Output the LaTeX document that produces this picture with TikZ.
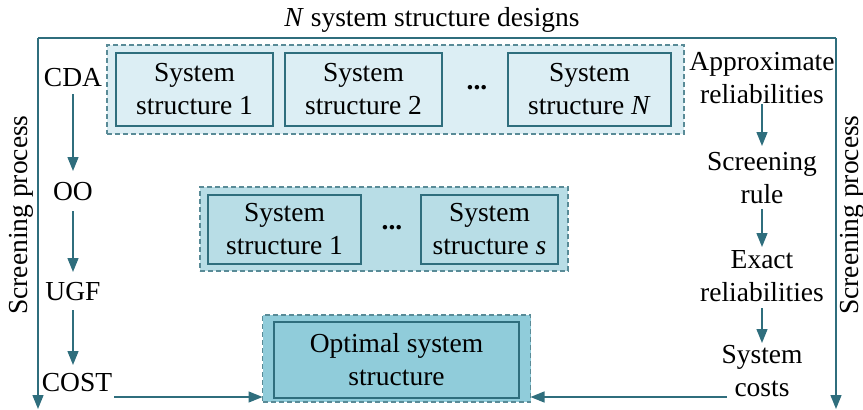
\documentclass[tikz,border=0pt]{standalone}
\usepackage{fontspec}
\setmainfont{Liberation Serif}
\usetikzlibrary{arrows.meta}
\definecolor{lc}{HTML}{2F6E7D}
\definecolor{fa}{HTML}{DCEEF4}
\definecolor{fb}{HTML}{B8DDE6}
\definecolor{fc}{HTML}{90CCDA}
\begin{document}
\begin{tikzpicture}[x=1pt,y=-1pt,
  every node/.style={inner sep=0pt,outer sep=0pt,font=\fontsize{27.5}{33}\selectfont,align=center},
  grp/.style={draw=lc!80,line width=1.2pt,dash pattern=on 5pt off 3pt},
  sbox/.style={draw=lc,line width=1.5pt},
  arr/.style={draw=lc,line width=1.4pt,-{Triangle[width=11pt,length=14pt]}},
  lbl/.style={}
]
\useasboundingbox (0,0) rectangle (863,410);
% title
\node (title) at (432,20) {\textit{N} system structure designs};
% frame
\coordinate (fl) at (38,38);
\coordinate (fr) at (836,38);
\coordinate (flb) at (38,409);
\coordinate (frb) at (836,409);
\draw[arr] (fl) -- (flb);
\draw[arr] (fr) -- (frb);
\draw[draw=lc,line width=1.4pt] (fl) -- (fr);
\node[rotate=90] (spl) at (21,215) {Screening process};
\node[rotate=90] (spr) at (852,215) {Screening process};
% top group
\node[grp,fill=fa,minimum width=577pt,minimum height=89pt] (g1) at (395.5,89.5) {};
\node[sbox,fill=fa,minimum width=157pt,minimum height=73pt] (t1) at (194.5,89.5) {System\\structure 1};
\node[sbox,fill=fa,minimum width=157pt,minimum height=73pt] (t2) at (363.5,89.5) {System\\structure 2};
\node (td) at (477,88) {\textbf{...}};
\node[sbox,fill=fa,minimum width=163pt,minimum height=73pt] (t3) at (589.5,89.5) {System\\structure \textit{N}};
% middle group
\node[grp,fill=fb,minimum width=368pt,minimum height=84pt] (g2) at (384,229) {};
\node[sbox,fill=fb,minimum width=153pt,minimum height=69pt] (m1) at (284.5,229.5) {System\\structure 1};
\node (md) at (392,228) {\textbf{...}};
\node[sbox,fill=fb,minimum width=137pt,minimum height=69pt] (m2) at (489.5,229.5) {System\\structure \textit{s}};
% bottom group
\node[grp,fill=fc,minimum width=268pt,minimum height=87pt] (g3) at (396.5,358.5) {};
\node[sbox,fill=fc,minimum width=245pt,minimum height=76pt] (b1) at (396.5,360) {Optimal system\\structure};
% left labels
\node (cda) at (73,78) {CDA};
\node (oo) at (73,192) {OO};
\node (ugf) at (73,292) {UGF};
\node (cost) at (77,383) {COST};
\draw[arr] (73,94) -- (73,171);
\draw[arr] (73,211) -- (73,272);
\draw[arr] (73,310) -- (73,365);
\coordinate (ca) at (114,397);
\draw[arr] (ca) -- (g3.west |- ca);
% right labels
\node (apr) at (762,78) {Approximate\\reliabilities};
\node (scr) at (762,178) {Screening\\rule};
\node (exr) at (762,276) {Exact\\reliabilities};
\node (cst) at (762,371) {System\\costs};
\draw[arr] (762,104) -- (762,146);
\draw[arr] (762,209) -- (762,247);
\draw[arr] (762,308) -- (762,343);
\coordinate (cb) at (727,397);
\draw[arr] (cb) -- (g3.east |- cb);
\end{tikzpicture}
\end{document}
